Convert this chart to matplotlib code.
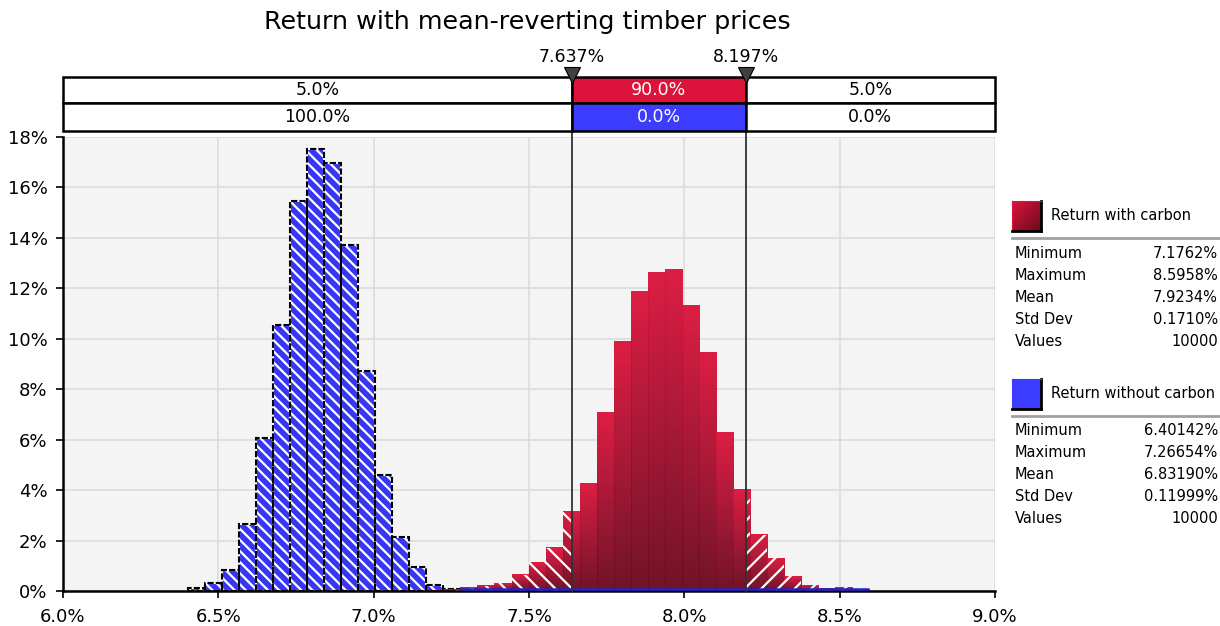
"""
Return with mean-reverting timber prices
@RISK style overlay histogram: with carbon vs without carbon
"""
import numpy as np
import matplotlib
matplotlib.use("Agg")
import matplotlib.pyplot as plt
import matplotlib.transforms as mtransforms
from matplotlib.patches import Rectangle
from matplotlib.lines import Line2D
from matplotlib.colors import LinearSegmentedColormap

plt.rcParams["font.family"] = "DejaVu Sans"
plt.rcParams["hatch.linewidth"] = 1.6

W, H = 1220, 626

# ---------------------------------------------------------------
# data
# ---------------------------------------------------------------
TITLE = "Return with mean-reverting timber prices"
bin_lo, bin_hi, n_bins = 6.40142, 8.5958, 40   # shared bins (min of blue .. max of red)

# % of values per bin
blue_pct = [0.12, 0.30, 0.85, 2.67, 6.05, 10.54, 15.46, 17.52, 16.98, 13.71,
            8.72, 4.60, 2.16, 0.94, 0.22, 0.09, 0, 0, 0, 0,
            0, 0, 0, 0, 0, 0, 0, 0, 0, 0,
            0, 0, 0, 0, 0, 0, 0, 0, 0, 0]
red_pct = [0, 0, 0, 0, 0, 0, 0, 0, 0, 0,
           0, 0, 0, 0, 0.01, 0.04, 0.13, 0.20, 0.30, 0.65,
           1.13, 1.71, 3.14, 4.27, 7.08, 9.90, 11.88, 12.64, 12.76, 11.33,
           9.46, 6.29, 4.03, 2.24, 1.29, 0.58, 0.22, 0.09, 0.15, 0.05]

cut_lo, cut_hi = 7.637, 8.197
cut_labels = ["7.637%", "8.197%"]
row_carbon = ["5.0%", "90.0%", "5.0%"]
row_nocarbon = ["100.0%", "0.0%", "0.0%"]

stat_names = ["Minimum", "Maximum", "Mean", "Std Dev", "Values"]
carbon_stats = ["7.1762%", "8.5958%", "7.9234%", "0.1710%", "10000"]
nocarbon_stats = ["6.40142%", "7.26654%", "6.83190%", "0.11999%", "10000"]
series_names = ["Return with carbon", "Return without carbon"]

xticks = [6.0, 6.5, 7.0, 7.5, 8.0, 8.5, 9.0]
yticks = [0, 2, 4, 6, 8, 10, 12, 14, 16, 18]

CRIMSON = "#DC143C"
DARK = "#6A0A1E"
BLUE = "#3636F4"
red_cmap = LinearSegmentedColormap.from_list("redgrad", [DARK, CRIMSON])

# ---------------------------------------------------------------
# figure
# ---------------------------------------------------------------
fig = plt.figure(figsize=(W / 100, H / 100), dpi=100)
fx = lambda px: px / W
fy = lambda py: 1 - py / H

ax = fig.add_axes([fx(63), fy(591), fx(995) - fx(63), fy(137) - fy(591)])
ax.set_facecolor("#F4F4F4")
ax.set_axisbelow(True)
ax.grid(True, color="#DCDCDC", linewidth=1.2)

edges = np.linspace(bin_lo, bin_hi, n_bins + 1)
left = edges[:-1]
width = np.diff(edges)
blue = np.array(blue_pct)
red = np.array(red_pct)

# blue histogram: fill + white hatch, then white/black dashed outline
nz = blue > 0
ax.bar(left[nz], blue[nz], width=width[nz], align="edge", color=BLUE,
       edgecolor="white", hatch="\\\\\\", linewidth=0, zorder=2)
ax.bar(left[nz], blue[nz], width=width[nz], align="edge", fill=False,
       edgecolor="white", linewidth=1.5, zorder=2.1)
ax.bar(left[nz], blue[nz], width=width[nz], align="edge", fill=False,
       edgecolor="black", linewidth=1.5, linestyle=(0, (3, 1)), zorder=2.2)

# red histogram: per-bar vertical gradient, hatched outside the 90% band
grad = np.linspace(1, 0, 256).reshape(-1, 1)
for x0, w, h in zip(left, width, red):
    if h <= 0:
        continue
    x1 = x0 + w
    ax.imshow(grad, cmap=red_cmap, extent=[x0, x1, 0, h], aspect="auto",
              origin="upper", alpha=0.96, zorder=2.5, interpolation="bilinear")
    if x0 < cut_lo:
        ax.add_patch(Rectangle((x0, 0), min(x1, cut_lo) - x0, h, fill=False,
                               edgecolor="white", hatch="\\\\", linewidth=0, zorder=2.6))
    if x1 > cut_hi:
        s = max(x0, cut_hi)
        ax.add_patch(Rectangle((s, 0), x1 - s, h, fill=False,
                               edgecolor="white", hatch="//", linewidth=0, zorder=2.6))

# blue zero-height bars along the baseline
ax.plot([edges[nz.sum()], bin_hi], [0.07, 0.07], color="#2222CC", lw=1.8,
        zorder=3.5, solid_capstyle="butt")

ax.set_xlim(6.0, 9.0)
ax.set_ylim(0, 18)
ax.set_aspect("auto")
ax.set_xticks(xticks)
ax.set_xticklabels([f"{t:.1f}%" for t in xticks], fontsize=13)
ax.set_yticks(yticks)
ax.set_yticklabels([f"{t}%" for t in yticks], fontsize=13)
ax.tick_params(axis="x", direction="out", length=5, width=1.2, color="black", pad=7)
ax.tick_params(axis="y", direction="out", length=5, width=1.2, color="black", pad=6)
for s in ["top", "right"]:
    ax.spines[s].set_visible(False)
for s in ["left", "bottom"]:
    ax.spines[s].set_linewidth(1.8)
    ax.spines[s].set_zorder(3)

# ---------------------------------------------------------------
# band table above the plot
# ---------------------------------------------------------------
bt = mtransforms.blended_transform_factory(ax.transData, ax.transAxes)
ah = 591 - 137
y_top = (591 - 77) / ah
y_mid = (591 - 103) / ah
y_bot = (591 - 131) / ah
bounds = [6.0, cut_lo, cut_hi, 9.0]
for (yb, yt, labels, mid_col) in [(y_mid, y_top, row_carbon, CRIMSON),
                                  (y_bot, y_mid, row_nocarbon, "#3C3CFF")]:
    for i, lab in enumerate(labels):
        fc = mid_col if i == 1 else "white"
        ax.add_patch(Rectangle((bounds[i], yb), bounds[i + 1] - bounds[i], yt - yb,
                               transform=bt, facecolor=fc, edgecolor="black",
                               linewidth=1.8, clip_on=False, zorder=5))
        ax.text((bounds[i] + bounds[i + 1]) / 2, (yb + yt) / 2, lab, transform=bt,
                ha="center", va="center", fontsize=12.5,
                color="white" if i == 1 else "black", zorder=6)

for c, lab in zip([cut_lo, cut_hi], cut_labels):
    ax.plot([c, c], [0, y_top], transform=bt, color="#303030", lw=1.3,
            clip_on=False, zorder=4)
    ax.plot([c], [y_top + 0.005], transform=bt, marker="v", ms=11, color="#404040",
            mec="black", mew=0.8, clip_on=False, zorder=7)
    ax.text(c, (591 - 57) / ah, lab, transform=bt, ha="center", va="center",
            fontsize=12.5, zorder=7)

fig.text(fx(527), fy(22), TITLE, ha="center", va="center", fontsize=18.3)

# ---------------------------------------------------------------
# legend / stats panel
# ---------------------------------------------------------------
def swatch(y_top_px, kind):
    sax = fig.add_axes([fx(1012), fy(y_top_px + 30), fx(29), 30 / H])
    if kind == "red":
        gx, gy = np.meshgrid(np.linspace(0, 1, 64), np.linspace(0, 1, 64))
        sax.imshow(1 - (gx + gy) / 2, cmap=red_cmap, aspect="auto",
                   interpolation="bilinear", vmin=0, vmax=1)
        edge = CRIMSON
    else:
        sax.set_facecolor("#3C3CFF")
        edge = "#3C3CFF"
    sax.set_xticks([])
    sax.set_yticks([])
    for s in ["left", "top"]:
        sax.spines[s].set_color(edge)
    for s in ["right", "bottom"]:
        sax.spines[s].set_color("black")
        sax.spines[s].set_linewidth(2)

blocks = [(201, 215, 237.7, 253.3, series_names[0], carbon_stats, "red"),
          (379, 393, 415.7, 430.7, series_names[1], nocarbon_stats, "blue")]
for sq_y, name_y, line_y, row0, name, vals, kind in blocks:
    swatch(sq_y, kind)
    fig.text(fx(1051), fy(name_y), name, ha="left", va="center", fontsize=10.5)
    fig.add_artist(Line2D([fx(1012), fx(1220)], [fy(line_y)] * 2,
                          color="#A0A0A0", lw=2))
    for k, (sn, sv) in enumerate(zip(stat_names, vals)):
        yy = fy(row0 + k * 22)
        fig.text(fx(1015), yy, sn, ha="left", va="center", fontsize=10.5)
        fig.text(fx(1218), yy, sv, ha="right", va="center", fontsize=10.5)

fig.savefig("out.png", dpi=100)
